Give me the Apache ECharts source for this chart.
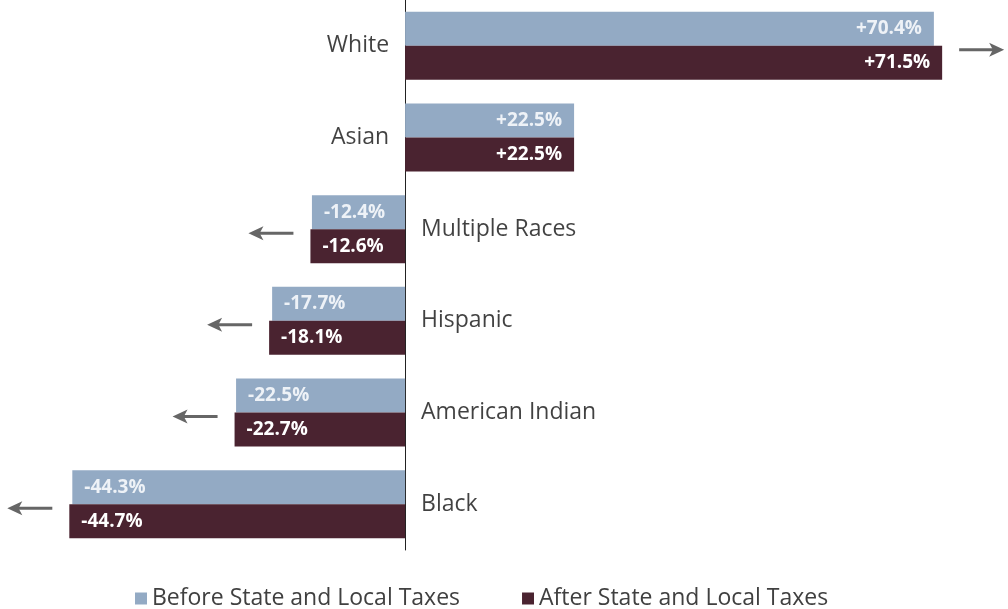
<!DOCTYPE html>
<html>
<head>
<meta charset="utf-8">
<script src="https://cdn.jsdelivr.net/npm/echarts@6/dist/echarts.min.js"></script>
<style>
  html, body { margin: 0; padding: 0; background: #ffffff; }
  #chart { width: 1008px; height: 609px; }
</style>
</head>
<body>
<div id="chart"></div>
<script>
// Change in share of income by race, before and after state and local taxes
const categories = ['White', 'Asian', 'Multiple Races', 'Hispanic', 'American Indian', 'Black'];
const beforeTaxes = [70.4, 22.5, -12.4, -17.7, -22.5, -44.3];
const afterTaxes = [71.5, 22.5, -12.6, -18.1, -22.7, -44.7];
// direction of the trend arrow next to each group (0 = none)
const arrowDirections = [1, 0, -1, -1, -1, -1];
const seriesNames = ['Before State and Local Taxes', 'After State and Local Taxes'];

const FONT = '"Open Sans", "Noto Sans", sans-serif';
const BEFORE_COLOR = '#93aac4';
const AFTER_COLOR = '#4a2330';

function fmt(v) {
  return (v > 0 ? '+' : '') + v.toFixed(1) + '%';
}

function barData(values, textColor) {
  return values.map(v => ({
    value: v,
    label: {
      show: true,
      position: v >= 0 ? 'insideRight' : 'insideLeft',
      distance: 12,
      formatter: fmt(v),
      color: textColor,
      fontFamily: FONT,
      fontWeight: 'bold',
      fontSize: 19
    }
  }));
}

const chart = echarts.init(document.getElementById('chart'));

chart.setOption({
  animation: false,
  backgroundColor: '#ffffff',
  grid: { left: 29.5, width: 976.5, top: 0, height: 550 },
  xAxis: {
    type: 'value',
    min: -50,
    max: 80,
    show: false
  },
  yAxis: {
    type: 'category',
    data: categories,
    inverse: true,
    axisLine: { show: true, onZero: true, lineStyle: { color: '#222222', width: 1 } },
    axisTick: { show: false },
    axisLabel: { show: false },
    splitLine: { show: false }
  },
  legend: {
    bottom: -6,
    left: 130,
    icon: 'rect',
    itemWidth: 12,
    itemHeight: 12,
    itemGap: 62,
    textStyle: { fontFamily: FONT, fontSize: 23, color: '#404040' },
    data: seriesNames
  },
  series: [
    {
      name: seriesNames[0],
      type: 'bar',
      barWidth: 34,
      barGap: '0%',
      itemStyle: { color: BEFORE_COLOR },
      data: barData(beforeTaxes, '#eef2f7')
    },
    {
      name: seriesNames[1],
      type: 'bar',
      barWidth: 34,
      barGap: '0%',
      itemStyle: { color: AFTER_COLOR },
      data: barData(afterTaxes, '#ffffff')
    },
    {
      // group names sit beside the zero line, opposite the bars
      type: 'scatter',
      symbolSize: 0,
      silent: true,
      data: categories.map((c, i) => ({
        value: [0, i],
        label: {
          show: true,
          position: afterTaxes[i] >= 0 ? 'left' : 'right',
          distance: 16,
          formatter: c,
          color: '#111111',
          fontFamily: FONT,
          fontSize: 23
        }
      }))
    },
    {
      // trend arrows beyond the end of each group's bars
      type: 'custom',
      silent: true,
      data: afterTaxes.map((v, i) => [v, i, arrowDirections[i]]),
      renderItem: function (params, api) {
        const dir = api.value(2);
        if (!dir) return null;
        const p = api.coord([api.value(0), api.value(1)]);
        const y = p[1] + 4;
        const x0 = p[0] + dir * 17;
        const x1 = x0 + dir * 45;
        const head = 15;
        return {
          type: 'group',
          children: [
            {
              type: 'line',
              shape: { x1: x0, y1: y, x2: x1 - dir * head * 0.6, y2: y },
              style: { stroke: '#666666', lineWidth: 3 }
            },
            {
              type: 'polygon',
              shape: {
                points: [
                  [x1, y],
                  [x1 - dir * head, y - 7],
                  [x1 - dir * head * 0.75, y],
                  [x1 - dir * head, y + 7]
                ]
              },
              style: { fill: '#666666' }
            }
          ]
        };
      }
    }
  ]
});
</script>
</body>
</html>
